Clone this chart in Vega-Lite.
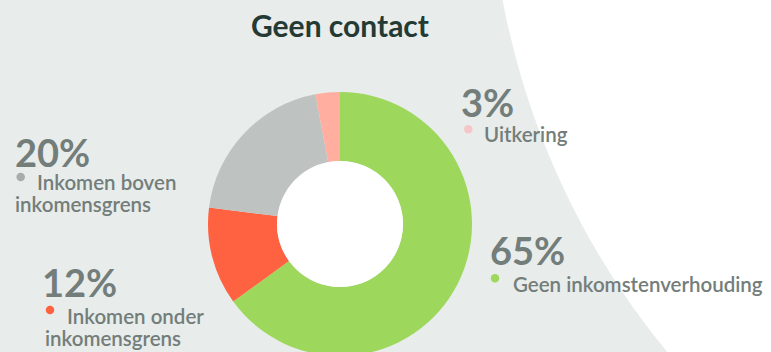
{
  "$schema": "https://vega.github.io/schema/vega-lite/v6.json",
  "width": 771,
  "height": 352,
  "autosize": {"type": "none"},
  "padding": 0,
  "background": "#e8eceb",
  "config": {
    "view": {"stroke": null},
    "axis": {"disable": true},
    "text": {"font": "Lato"}
  },
  "datasets": {
    "shares": [
      {"category": "Geen inkomstenverhouding", "share": 0.65, "line1": "Geen inkomstenverhouding", "line2": ""},
      {"category": "Inkomen onder inkomensgrens", "share": 0.12, "line1": "Inkomen onder", "line2": "inkomensgrens"},
      {"category": "Inkomen boven inkomensgrens", "share": 0.20, "line1": "Inkomen boven", "line2": "inkomensgrens"},
      {"category": "Uitkering", "share": 0.03, "line1": "Uitkering", "line2": ""}
    ]
  },
  "layer": [
    {
      "description": "white backdrop arc on the right-hand side",
      "data": {"values": [{"part": "backdrop"}]},
      "mark": {"type": "point", "shape": "circle", "filled": true, "color": "#ffffff", "opacity": 1, "size": 2446096, "strokeWidth": 0},
      "encoding": {
        "x": {"datum": 1271, "type": "quantitative", "scale": {"domain": [0, 771], "nice": false, "zero": false}, "axis": null},
        "y": {"datum": -145, "type": "quantitative", "scale": {"domain": [0, 352], "nice": false, "zero": false, "reverse": true}, "axis": null}
      }
    },
    {
      "data": {"name": "shares"},
      "transform": [{"window": [{"op": "row_number", "as": "slice_order"}]}],
      "mark": {"type": "arc", "innerRadius": 63, "outerRadius": 132},
      "encoding": {
        "theta": {"field": "share", "type": "quantitative", "stack": true},
        "order": {"field": "slice_order", "type": "quantitative", "sort": "ascending"},
        "color": {
          "field": "category",
          "type": "nominal",
          "scale": {
            "domain": ["Geen inkomstenverhouding", "Inkomen onder inkomensgrens", "Inkomen boven inkomensgrens", "Uitkering"],
            "range": ["#9dd85c", "#ff6241", "#bec3c2", "#ffaea0"]
          },
          "legend": null
        },
        "x": {"datum": 340, "type": "quantitative"},
        "y": {"datum": 224, "type": "quantitative"}
      }
    },
    {
      "description": "white centre of the donut",
      "data": {"values": [{"part": "hole"}]},
      "mark": {"type": "point", "shape": "circle", "filled": true, "color": "#ffffff", "opacity": 1, "size": 15876, "strokeWidth": 0},
      "encoding": {
        "x": {"datum": 340, "type": "quantitative"},
        "y": {"datum": 224, "type": "quantitative"}
      }
    },
    {
      "data": {"values": [{"title": "Geen contact"}]},
      "mark": {"type": "text", "fontSize": 30, "fontWeight": "bold", "color": "#243a34", "align": "center", "baseline": "alphabetic"},
      "encoding": {
        "text": {"field": "title"},
        "x": {"datum": 340, "type": "quantitative"},
        "y": {"datum": 37, "type": "quantitative"}
      }
    },
    {
      "data": {"name": "shares"},
      "transform": [{"filter": "datum.category === 'Uitkering'"}],
      "layer": [
        {
          "mark": {"type": "text", "fontSize": 38, "fontWeight": "bold", "color": "#737d7a", "align": "left", "baseline": "alphabetic"},
          "encoding": {"text": {"field": "share", "format": ".0%"}, "x": {"datum": 461, "type": "quantitative"}, "y": {"datum": 116.5, "type": "quantitative"}}
        },
        {
          "mark": {"type": "point", "shape": "circle", "filled": true, "opacity": 1, "size": 72, "strokeWidth": 0, "color": "#f4c6c8"},
          "encoding": {"x": {"datum": 468.3, "type": "quantitative"}, "y": {"datum": 129.3, "type": "quantitative"}}
        },
        {
          "mark": {"type": "text", "fontSize": 20.5, "fontWeight": 600, "color": "#737d7a", "align": "left", "baseline": "alphabetic"},
          "encoding": {"text": {"field": "line1"}, "x": {"datum": 484, "type": "quantitative"}, "y": {"datum": 141.5, "type": "quantitative"}}
        }
      ]
    },
    {
      "data": {"name": "shares"},
      "transform": [{"filter": "datum.category === 'Inkomen boven inkomensgrens'"}],
      "layer": [
        {
          "mark": {"type": "text", "fontSize": 38, "fontWeight": "bold", "color": "#737d7a", "align": "left", "baseline": "alphabetic"},
          "encoding": {"text": {"field": "share", "format": ".0%"}, "x": {"datum": 15, "type": "quantitative"}, "y": {"datum": 166.5, "type": "quantitative"}}
        },
        {
          "mark": {"type": "point", "shape": "circle", "filled": true, "opacity": 1, "size": 72, "strokeWidth": 0, "color": "#a6adab"},
          "encoding": {"x": {"datum": 20.7, "type": "quantitative"}, "y": {"datum": 177, "type": "quantitative"}}
        },
        {
          "mark": {"type": "text", "fontSize": 20.5, "fontWeight": 600, "color": "#737d7a", "align": "left", "baseline": "alphabetic"},
          "encoding": {"text": {"field": "line1"}, "x": {"datum": 37, "type": "quantitative"}, "y": {"datum": 190, "type": "quantitative"}}
        },
        {
          "mark": {"type": "text", "fontSize": 20.5, "fontWeight": 600, "color": "#737d7a", "align": "left", "baseline": "alphabetic"},
          "encoding": {"text": {"field": "line2"}, "x": {"datum": 15, "type": "quantitative"}, "y": {"datum": 212, "type": "quantitative"}}
        }
      ]
    },
    {
      "data": {"name": "shares"},
      "transform": [{"filter": "datum.category === 'Geen inkomstenverhouding'"}],
      "layer": [
        {
          "mark": {"type": "text", "fontSize": 38, "fontWeight": "bold", "color": "#737d7a", "align": "left", "baseline": "alphabetic"},
          "encoding": {"text": {"field": "share", "format": ".0%"}, "x": {"datum": 490, "type": "quantitative"}, "y": {"datum": 265, "type": "quantitative"}}
        },
        {
          "mark": {"type": "point", "shape": "circle", "filled": true, "opacity": 1, "size": 72, "strokeWidth": 0, "color": "#9dd85c"},
          "encoding": {"x": {"datum": 495, "type": "quantitative"}, "y": {"datum": 278.3, "type": "quantitative"}}
        },
        {
          "mark": {"type": "text", "fontSize": 20.5, "fontWeight": 600, "color": "#737d7a", "align": "left", "baseline": "alphabetic"},
          "encoding": {"text": {"field": "line1"}, "x": {"datum": 513, "type": "quantitative"}, "y": {"datum": 292, "type": "quantitative"}}
        }
      ]
    },
    {
      "data": {"name": "shares"},
      "transform": [{"filter": "datum.category === 'Inkomen onder inkomensgrens'"}],
      "layer": [
        {
          "mark": {"type": "text", "fontSize": 38, "fontWeight": "bold", "color": "#737d7a", "align": "left", "baseline": "alphabetic"},
          "encoding": {"text": {"field": "share", "format": ".0%"}, "x": {"datum": 42, "type": "quantitative"}, "y": {"datum": 296.5, "type": "quantitative"}}
        },
        {
          "mark": {"type": "point", "shape": "circle", "filled": true, "opacity": 1, "size": 72, "strokeWidth": 0, "color": "#ff6241"},
          "encoding": {"x": {"datum": 50, "type": "quantitative"}, "y": {"datum": 310, "type": "quantitative"}}
        },
        {
          "mark": {"type": "text", "fontSize": 20.5, "fontWeight": 600, "color": "#737d7a", "align": "left", "baseline": "alphabetic"},
          "encoding": {"text": {"field": "line1"}, "x": {"datum": 67, "type": "quantitative"}, "y": {"datum": 324, "type": "quantitative"}}
        },
        {
          "mark": {"type": "text", "fontSize": 20.5, "fontWeight": 600, "color": "#737d7a", "align": "left", "baseline": "alphabetic"},
          "encoding": {"text": {"field": "line2"}, "x": {"datum": 45, "type": "quantitative"}, "y": {"datum": 346, "type": "quantitative"}}
        }
      ]
    }
  ]
}
